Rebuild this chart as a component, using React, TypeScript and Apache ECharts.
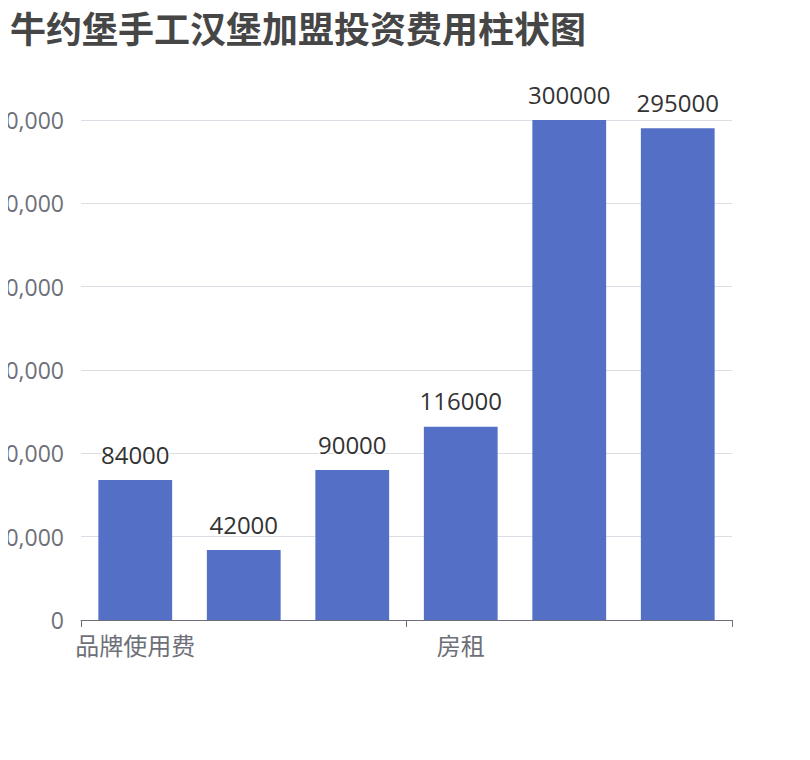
import * as echarts from "echarts";
import React, { useEffect, useRef } from "react";

const titleText = "牛约堡手工汉堡加盟投资费用柱状图";
const categories = ["品牌使用费", "加盟保证金", "设备费用", "房租", "装修费用", "流动资金"];
const costValues = [84000, 42000, 90000, 116000, 300000, 295000];
const yMax = 300000;
const yStep = 50000;

const FONT = "'Open Sans', 'Noto Sans CJK SC', sans-serif";

const App: React.FC = () => {
  const chartRef = useRef<HTMLDivElement | null>(null);

  useEffect(() => {
    const chart = echarts.init(chartRef.current, null, { renderer: "svg" });
    chart.setOption({
      animation: false,
      textStyle: { fontFamily: FONT },
      title: {
        text: titleText,
        left: -3,
        top: -2,
        textStyle: { fontSize: 36, fontWeight: "bold", color: "#464646", fontFamily: FONT },
      },
      grid: { left: 73, right: 70, top: 112, bottom: 132, outerBoundsMode: "none", containLabel: false },
      xAxis: {
        type: "category",
        data: categories,
        axisTick: { show: true, interval: 2, length: 7 },
        axisLine: { lineStyle: { color: "#6E7079" } },
        axisLabel: { interval: 2, fontSize: 24, margin: 13, color: "#6E7079" },
      },
      yAxis: {
        type: "value",
        min: 0,
        max: yMax,
        interval: yStep,
        axisLabel: { fontSize: 23, margin: 17, color: "#6E7079" },
      },
      series: [
        {
          type: "bar",
          data: costValues,
          barWidth: "68%",
          itemStyle: { color: "#5470c6" },
          label: {
            show: true,
            position: "top",
            distance: 14,
            fontSize: 24,
            color: "#333",
            textBorderColor: "#fff",
            textBorderWidth: 3,
          },
        },
      ],
    });
    return () => chart.dispose();
  }, []);

  return <div ref={chartRef} style={{ width: "100%", height: "744px" }}></div>;
};

export default App;
